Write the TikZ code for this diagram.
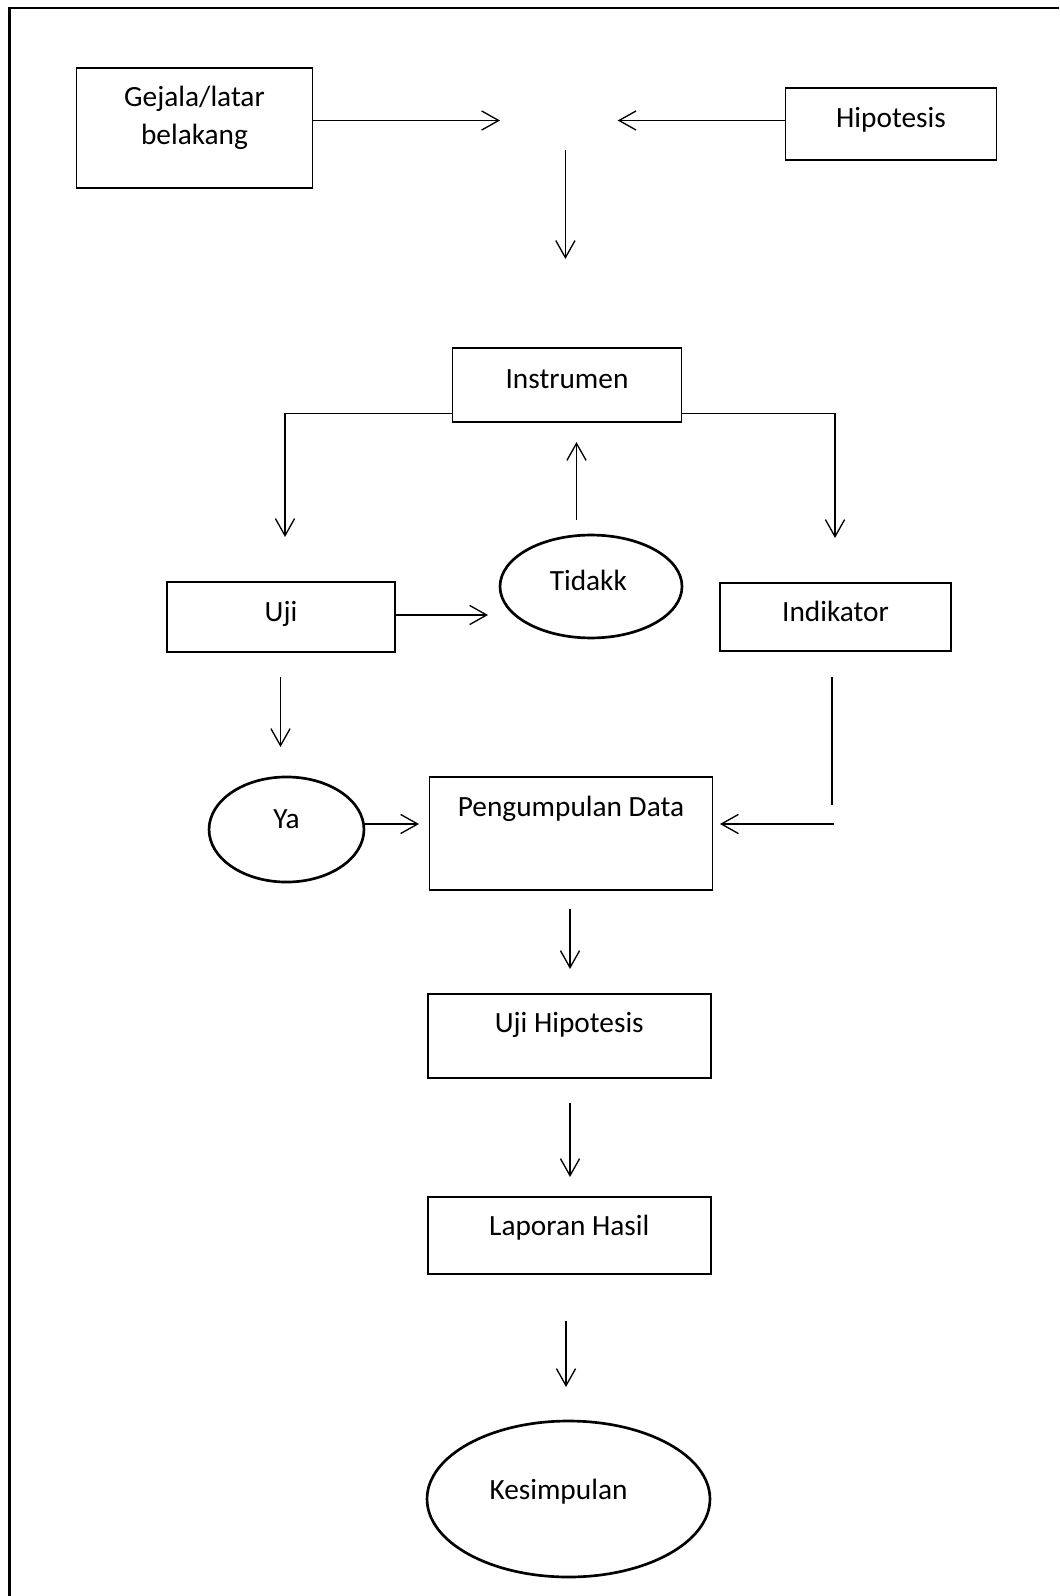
\documentclass[tikz,border=0pt]{standalone}
\usepackage{fontspec}
\setmainfont{Carlito}
\usetikzlibrary{shapes.geometric,arrows.meta}

\begin{document}
\begin{tikzpicture}[
      x=0.375pt, y=-0.375pt,
      every node/.style={draw, align=center, inner sep=3.5pt, font=\fontsize{11}{14.25}\selectfont, text height=8pt, text depth=5pt},
      box/.style={rectangle, line width=0.6pt},
      oval/.style={ellipse, line width=1pt},
      arrow/.style={-{Straight Barb[length=6.4pt, width=7.2pt]}, line width=0.5pt}
    ]
    \useasboundingbox (0,0) rectangle (1059,1596);
    \draw[line width=1.1pt] (9.5,1596) -- (9.5,8) -- (1059,8);

    \node[box, minimum width=88.5pt, minimum height=45.2pt, text height=22.25pt, text depth=9.5pt] (gejala) at (194.5,128) {Gejala/latar\\belakang};
    \node[box, minimum width=79.1pt, minimum height=27pt] (hipotesis) at (891,124) {Hipotesis};
    \node[box, minimum width=85.9pt, minimum height=27.75pt] (instrumen) at (567,385) {Instrumen};
    \node[box, minimum width=85.5pt, minimum height=26.25pt] (uji) at (281,617) {Uji};
    \node[oval, minimum width=68.25pt, minimum height=38.6pt] (tidakk) at (591,586.5) {Tidakk\hspace{2pt}};
    \node[box, minimum width=86.6pt, minimum height=25.5pt] (indikator) at (835.5,617) {Indikator};
    \node[oval, minimum width=58.1pt, minimum height=39.4pt, text depth=8.8pt] (ya) at (286.5,829.5) {Ya};
    \node[box, minimum width=106.1pt, minimum height=42.4pt, text depth=20.6pt] (data) at (571,833.5) {Pengumpulan Data};
    \node[box, minimum width=106.1pt, minimum height=31.5pt, text depth=10.5pt] (ujihip) at (569.3,1036) {Uji Hipotesis};
    \node[box, minimum width=106.1pt, minimum height=28.9pt, text depth=8pt] (laporan) at (569.3,1235.5) {Laporan Hasil};
    \node[oval, minimum width=106.1pt, minimum height=58.5pt, text depth=8pt] (kesimpulan) at (568.5,1499) {Kesimpulan\hspace{7.5pt}};

    % free ends of the arrows
    \coordinate (m1) at (500,120.5);
    \coordinate (m2) at (617.7,120.5);
    \coordinate (d1) at (565.4,150);
    \coordinate (d2) at (565.4,259);
    \coordinate (ki) at (285,537);
    \coordinate (ka) at (835,538);
    \coordinate (n1) at (576.5,520);
    \coordinate (n2) at (576.5,442);
    \coordinate (m3) at (488,615);
    \coordinate (y1) at (280.5,677);
    \coordinate (y2) at (280.5,747);
    \coordinate (m4) at (419,824);
    \coordinate (r1) at (832,677);
    \coordinate (r2) at (832,805);
    \coordinate (r3) at (834,824);
    \coordinate (r4) at (720,824);
    \coordinate (p1) at (570,909);
    \coordinate (p2) at (570,969);
    \coordinate (h1) at (570,1103);
    \coordinate (h2) at (570,1177);
    \coordinate (k1) at (566,1321);
    \coordinate (k2) at (566,1387);

    \draw[arrow] (gejala.east |- m1) -- (m1);
    \draw[arrow] (hipotesis.west |- m2) -- (m2);
    \draw[arrow] (d1) -- (d2);
    \draw[arrow] ([yshift=3.4pt]instrumen.south west) -| (ki);
    \draw[arrow] ([yshift=3.4pt]instrumen.south east) -| (ka);
    \draw[arrow] (n1) -- (n2);
    \draw[arrow] (uji.east |- m3) -- (m3);
    \draw[arrow] (y1) -- (y2);
    \draw[arrow] (ya.east |- m4) -- (m4);
    \draw[line width=0.5pt] (r1) -- (r2);
    \draw[arrow] (r3) -- (r4);
    \draw[arrow] (p1) -- (p2);
    \draw[arrow] (h1) -- (h2);
    \draw[arrow] (k1) -- (k2);
  \end{tikzpicture}
\end{document}
